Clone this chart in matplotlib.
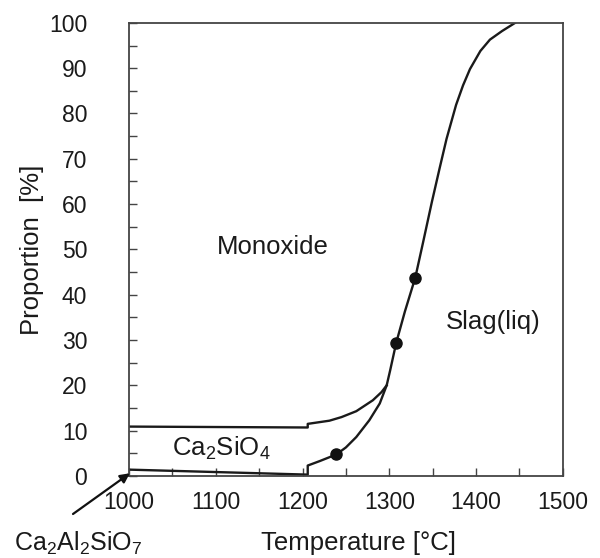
import matplotlib
matplotlib.use("Agg")
import matplotlib.pyplot as plt
from matplotlib.ticker import MultipleLocator

plt.rcParams['font.family'] = ['Liberation Sans', 'DejaVu Sans']
plt.rcParams['mathtext.default'] = 'regular'

# Monoxide / Ca2SiO4 boundary
temp_upper = [1000, 1206, 1206, 1231, 1245, 1262, 1281, 1291, 1297]
prop_upper = [10.9, 10.7, 11.5, 12.2, 13.0, 14.3, 16.7, 18.5, 20.0]

# Ca2Al2SiO7 / Ca2SiO4 and Ca2SiO4 / Slag boundary
temp_lower = [1000, 1206, 1206, 1220, 1239, 1250, 1262, 1277, 1289, 1297, 1301,
              1308, 1318, 1330, 1339, 1349, 1358, 1366, 1377, 1385, 1393, 1405,
              1416, 1430, 1445]
prop_lower = [1.4, 0.3, 2.3, 3.3, 4.75, 6.3, 8.6, 12.3, 16.0, 20.0, 23.3,
              29.4, 36.3, 43.8, 51.6, 60.4, 67.9, 74.4, 81.9, 86.2, 89.8, 93.8,
              96.3, 98.2, 100.0]

# measured points
temp_pts = [1239, 1308, 1330]
prop_pts = [4.75, 29.4, 43.8]

fig = plt.figure(figsize=(6, 5.58), dpi=100)
ax = fig.add_axes([0.215, 0.147, 0.723, 0.812])

ax.plot(temp_upper, prop_upper, color='#1a1a1a', lw=1.7)
ax.plot(temp_lower, prop_lower, color='#1a1a1a', lw=1.7)
ax.plot(temp_pts, prop_pts, 'o', color='#111111', ms=8)

ax.set_xlim(1000, 1500)
ax.set_ylim(0, 100)
ax.xaxis.set_major_locator(MultipleLocator(100))
ax.xaxis.set_minor_locator(MultipleLocator(50))
ax.yaxis.set_major_locator(MultipleLocator(10))
ax.yaxis.set_minor_locator(MultipleLocator(5))
ax.tick_params(which='both', direction='in', length=6, width=1.0, color='#444444',
               top=False, right=False, labelsize=16.5, labelcolor='#1a1a1a')
ax.tick_params(axis='x', which='major', pad=11)
ax.tick_params(axis='y', which='major', pad=30)
for s in ax.spines.values():
    s.set_color('#444444')
    s.set_linewidth(1.3)

ax.set_xlabel('Temperature [°C]', fontsize=18.5, color='#1a1a1a')
ax.xaxis.set_label_coords(0.528, -0.122)
ax.xaxis.label.set_va('top')
ax.set_ylabel('Proportion  [%]', fontsize=18.5, color='#1a1a1a')
ax.yaxis.set_label_coords(-0.196, 0.5)

ax.text(1166, 50.6, 'Monoxide', fontsize=18.5, ha='center', va='center', color='#1a1a1a')
ax.text(1420, 34, 'Slag(liq)', fontsize=18.5, ha='center', va='center', color='#1a1a1a')
ax.text(1106, 6, 'Ca$_2$SiO$_4$', fontsize=18.5, ha='center', va='center', color='#1a1a1a')

ax.annotate('', xy=(1001, 0.6), xycoords='data',
            xytext=(73, 44), textcoords='figure pixels',
            arrowprops=dict(arrowstyle='-|>', color='#111111', lw=1.6,
                            mutation_scale=14, shrinkA=0, shrinkB=0),
            annotation_clip=False)
fig.text(78, 15, 'Ca$_2$Al$_2$SiO$_7$', fontsize=18, ha='center', va='center',
         color='#1a1a1a', transform=None)

fig.savefig('out.png', dpi=100)
